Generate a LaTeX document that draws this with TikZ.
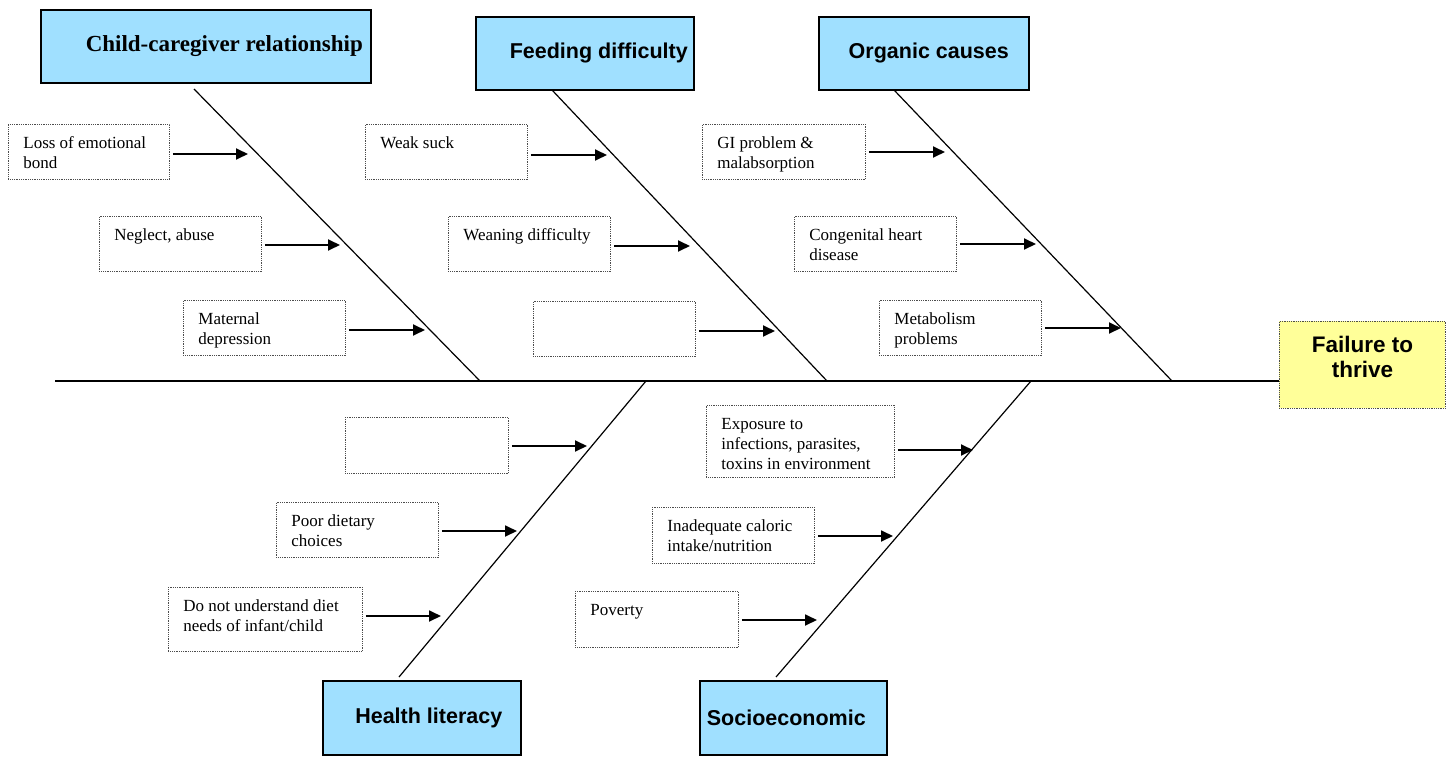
\documentclass[tikz,border=0pt]{standalone}
\usepackage{fontspec}
\setmainfont{Liberation Serif}
\newfontfamily\headsans{Liberation Sans}
\usetikzlibrary{arrows.meta}
\definecolor{headblue}{RGB}{160,224,255}
\definecolor{goalyellow}{RGB}{255,255,153}
\newcommand{\causetxt}[3]{\parbox[t][#2][t]{#1}{\leftskip=15pt\rightskip=0pt plus 1fil\parindent=0pt\rule{0pt}{24pt}#3}}
\tikzset{
  head/.style={draw=black, line width=1.6pt, fill=headblue, anchor=north west, inner sep=0pt,
    font=\headsans\bfseries\fontsize{21.5}{25}\selectfont},
  cause/.style={draw=black!70, densely dotted, line width=0.8pt, anchor=north west, inner sep=0pt,
    font=\fontsize{17}{20}\selectfont},
  goal/.style={draw=black!70, densely dotted, line width=0.8pt, fill=goalyellow, anchor=north west,
    inner sep=0pt, font=\headsans\bfseries\fontsize{22.5}{25}\selectfont},
  bone/.style={line width=1.2pt},
  feed/.style={line width=1.8pt, -{Triangle[length=12pt,width=11pt]}},
}
\begin{document}
\begin{tikzpicture}[x=1pt,y=-1pt]
\useasboundingbox (0,0) rectangle (1448,757);
\node[head, minimum width=330, minimum height=73, font=\rmfamily\bfseries\fontsize{23}{27}\selectfont] (child) at (40,9) {\hspace*{37pt}Child-caregiver relationship};
\node[head, minimum width=218, minimum height=73] (feeding) at (475,16) {\hspace*{28pt}Feeding difficulty};
\node[head, minimum width=210, minimum height=73] (organic) at (818,16) {\hspace*{10pt}Organic causes};
\node[head, minimum width=198, minimum height=74] (health) at (322,680) {\hspace*{14pt}Health literacy};
\node[head, minimum width=187, minimum height=74] (socio) at (699,680) {Socioeconomic\hspace*{14pt}};
\node[goal, minimum width=166, minimum height=87] (ftt) at (1279,321) {\raisebox{8pt}[\height][\depth]{\parbox{160pt}{\centering Failure to\\thrive}}};
\node[cause] (loss) at (8,124) {\causetxt{161pt}{55pt}{Loss of emotional\\bond}};
\node[cause] (neglect) at (99,216) {\causetxt{162pt}{55pt}{Neglect, abuse}};
\node[cause] (maternal) at (183,300) {\causetxt{162pt}{55pt}{Maternal\\depression}};
\node[cause] (weak) at (365,124) {\causetxt{162pt}{55pt}{Weak suck}};
\node[cause] (weaning) at (448,216) {\causetxt{162pt}{55pt}{Weaning difficulty}};
\node[cause] (feedblank) at (533,301) {\causetxt{162pt}{55pt}{}};
\node[cause] (gi) at (702,124) {\causetxt{163pt}{55pt}{GI problem \&\\malabsorption}};
\node[cause] (heart) at (794,216) {\causetxt{162pt}{55pt}{Congenital heart\\disease}};
\node[cause] (metab) at (879,300) {\causetxt{162pt}{55pt}{Metabolism\\problems}};
\node[cause] (litblank) at (345,417) {\causetxt{163pt}{56pt}{}};
\node[cause] (poor) at (276,502) {\causetxt{162pt}{55pt}{Poor dietary\\choices}};
\node[cause] (diet) at (168,587) {\causetxt{194pt}{64pt}{Do not understand diet\\needs of infant/child}};
\node[cause] (expo) at (706,405) {\causetxt{188pt}{72pt}{Exposure to\\infections, parasites,\\toxins in environment}};
\node[cause] (inad) at (652,507) {\causetxt{162pt}{56pt}{Inadequate caloric\\intake/nutrition}};
\node[cause] (poverty) at (575,591) {\causetxt{163pt}{56pt}{Poverty}};
\coordinate (tail) at (55,381);
\coordinate (b1top) at (194,89);
\coordinate (b1foot) at (480,381);
\coordinate (b2top) at (552,90);
\coordinate (b2foot) at (827,381);
\coordinate (b3top) at (894,90);
\coordinate (b3foot) at (1172,381);
\coordinate (b4bot) at (399,677);
\coordinate (b4foot) at (646,381);
\coordinate (b5bot) at (776,677);
\coordinate (b5foot) at (1031,381);
\coordinate (t-loss) at (248,154);
\coordinate (t-neglect) at (340,245);
\coordinate (t-maternal) at (425,330);
\coordinate (t-weak) at (607,155);
\coordinate (t-weaning) at (690,246);
\coordinate (t-feedblank) at (775,331);
\coordinate (t-gi) at (945,152);
\coordinate (t-heart) at (1036,244);
\coordinate (t-metab) at (1121,328);
\coordinate (t-litblank) at (587,446);
\coordinate (t-poor) at (517,531);
\coordinate (t-diet) at (441,616);
\coordinate (t-expo) at (973,450);
\coordinate (t-inad) at (893,536);
\coordinate (t-poverty) at (817,620);
\draw[bone] (tail) -- (tail -| ftt.west);
\draw[bone] (b1top) -- (b1foot);
\draw[bone] (b2top) -- (b2foot);
\draw[bone] (b3top) -- (b3foot);
\draw[bone] (b4bot) -- (b4foot);
\draw[bone] (b5bot) -- (b5foot);
\foreach \c in {loss,neglect,maternal,weak,weaning,feedblank,gi,heart,metab,litblank,poor,diet,expo,inad,poverty}
  \draw[feed] ([xshift=3pt]\c.east |- t-\c) -- (t-\c);
\end{tikzpicture}
\end{document}
